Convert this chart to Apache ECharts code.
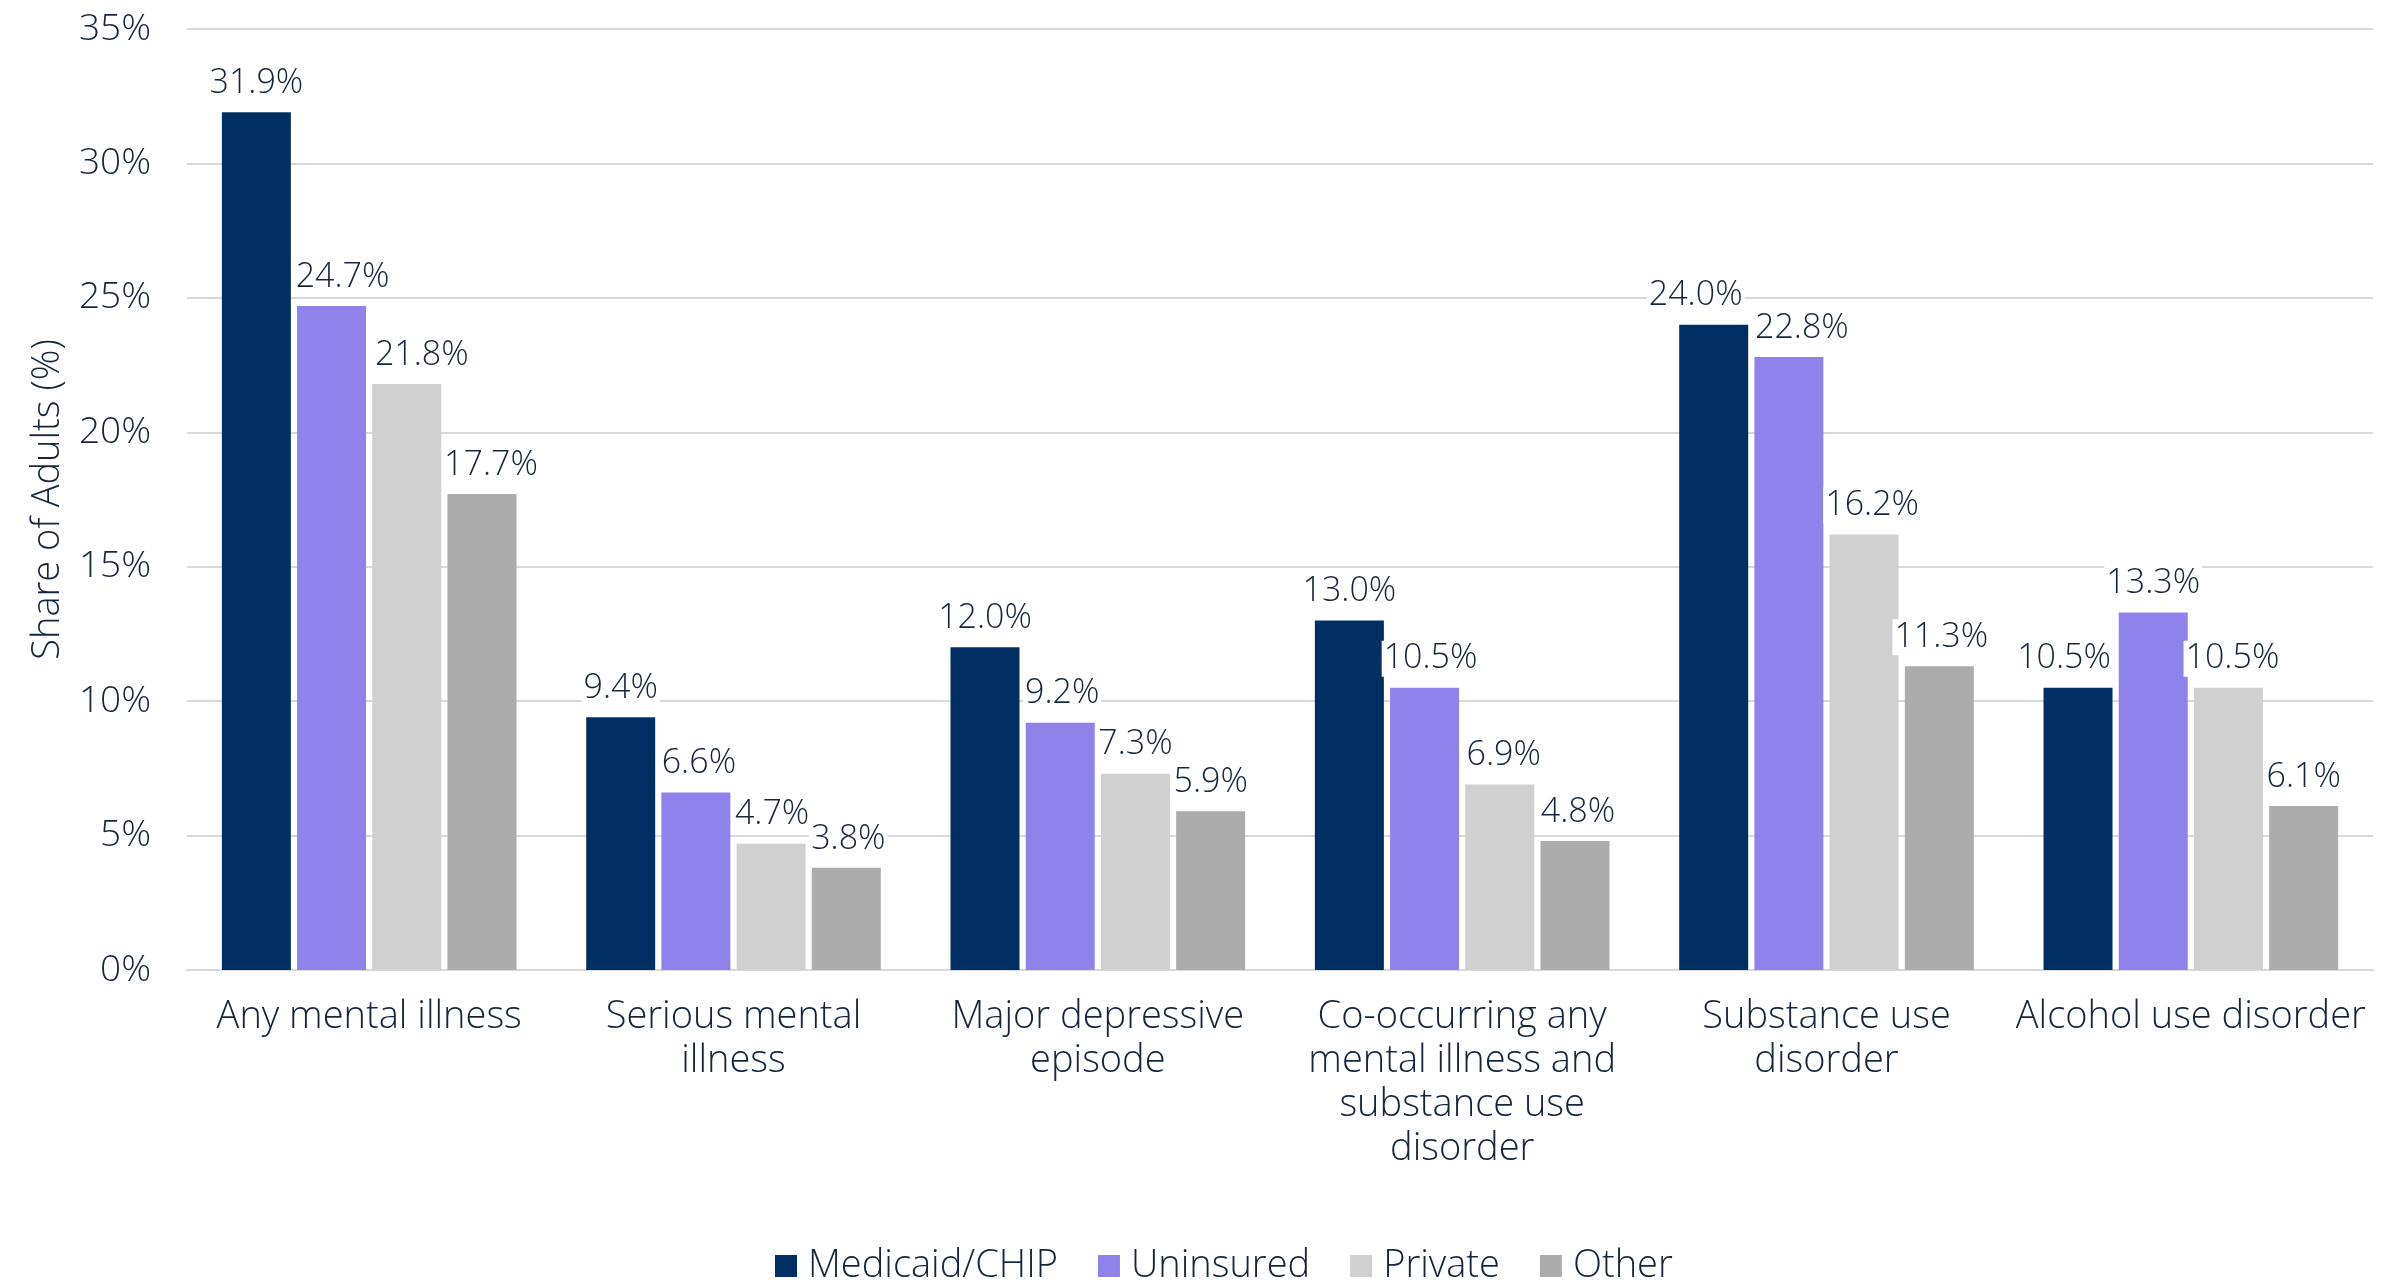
<!DOCTYPE html>
<html>
<head>
<meta charset="utf-8">
<script src="https://cdn.jsdelivr.net/npm/echarts@6/dist/echarts.min.js"></script>
<style>
html,body{margin:0;padding:0;background:#fff;}
#chart{width:2406px;height:1283px;}
</style>
</head>
<body>
<div id="chart"></div>
<script>
const categories = [
  "Any mental illness",
  "Serious mental\nillness",
  "Major depressive\nepisode",
  "Co-occurring any\nmental illness and\nsubstance use\ndisorder",
  "Substance use\ndisorder",
  "Alcohol use disorder"
];
const seriesNames = ["Medicaid/CHIP", "Uninsured", "Private", "Other"];
const medicaid = [31.9, 9.4, 12.0, 13.0, 24.0, 10.5];
const uninsured = [24.7, 6.6, 9.2, 10.5, 22.8, 13.3];
const privateIns = [21.8, 4.7, 7.3, 6.9, 16.2, 10.5];
const other = [17.7, 3.8, 5.9, 4.8, 11.3, 6.1];
const yTicks = [0, 5, 10, 15, 20, 25, 30, 35];

// horizontal label nudges (px) to mimic the reference's label placement
const labelNudge = [
  [0, 0, 0, 0, -18, -14],
  [11, 3, 2, 6, 13, 0],
  [15, 1, 0, 4, 8, 4],
  [9, 2, 0, 3, 2, 0]
];

const colors = ["#003063", "#8f82ea", "#d0d0d0", "#acacac"];
const textColor = "#15253a";
const font = "'Open Sans', Roboto, sans-serif";
const fw = 300;
const fsAxis = 38;
const fsTick = 37;
const fsLabel = 34;

const allData = [medicaid, uninsured, privateIns, other];

const chart = echarts.init(document.getElementById('chart'));
chart.setOption({
  animation: false,
  textStyle: { fontFamily: font, color: textColor, fontWeight: fw },
  grid: { left: 187, right: 33, top: 29, bottom: 313, containLabel: false },
  legend: {
    data: seriesNames,
    top: 1242,
    left: 770,
    icon: 'rect',
    itemWidth: 22,
    itemHeight: 22,
    itemGap: 40,
    textStyle: { fontSize: fsAxis, color: textColor, fontFamily: font, fontWeight: fw, padding: [0, 0, 0, 6] }
  },
  xAxis: {
    type: 'category',
    data: categories,
    axisLine: { lineStyle: { color: '#d9d9d9', width: 2 } },
    axisTick: { show: false },
    axisLabel: {
      interval: 0,
      fontSize: fsAxis,
      fontWeight: fw,
      lineHeight: 44,
      color: textColor,
      fontFamily: font,
      margin: 25,
      verticalAlign: 'top'
    }
  },
  yAxis: {
    type: 'value',
    min: yTicks[0],
    max: yTicks[yTicks.length - 1],
    interval: 5,
    name: 'Share of Adults (%)',
    nameLocation: 'middle',
    nameGap: 120,
    nameTextStyle: { fontSize: fsAxis, color: textColor, fontFamily: font, fontWeight: fw },
    axisLine: { show: false },
    axisTick: { show: false },
    splitLine: { lineStyle: { color: '#d9d9d9', width: 2 } },
    axisLabel: {
      fontSize: fsTick,
      fontWeight: fw,
      color: textColor,
      fontFamily: font,
      margin: 36,
      formatter: v => v + '%'
    }
  },
  series: seriesNames.map((name, i) => ({
    name: name,
    type: 'bar',
    data: allData[i].map((v, j) => ({
      value: v,
      label: { offset: [labelNudge[i][j], 0] }
    })),
    barWidth: 69,
    barGap: '9%',
    itemStyle: { color: colors[i] },
    label: {
      show: true,
      position: 'top',
      distance: 11,
      fontSize: fsLabel,
      fontWeight: fw,
      color: textColor,
      fontFamily: font,
      backgroundColor: '#ffffff',
      padding: [1, 2],
      formatter: p => Number(p.value).toFixed(1) + '%'
    }
  }))
});
</script>
</body>
</html>
